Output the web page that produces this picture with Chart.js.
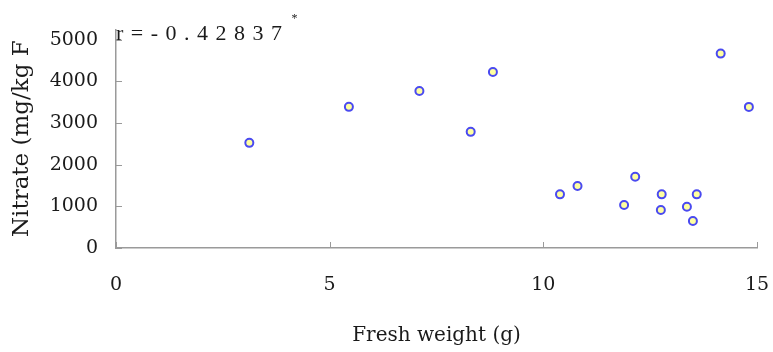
<!DOCTYPE html>
<html>
<head>
<meta charset="utf-8">
<script src="https://cdn.jsdelivr.net/npm/chart.js@4/dist/chart.umd.min.js"></script>
<style>
html,body{margin:0;padding:0;background:#fff;}
#wrap{width:773px;height:352px;position:relative;}
</style>
</head>
<body>
<div id="wrap"><canvas id="c" width="773" height="352"></canvas></div>
<script>
const freshWeight = [3.12, 5.45, 7.10, 8.82, 8.30, 14.15, 14.81, 10.39, 10.80, 12.15, 11.89, 12.77, 12.75, 13.59, 13.36, 13.50];
const nitrate     = [2525, 3390, 3772, 4228, 2789, 4669, 3389, 1288, 1487, 1710, 1031, 1288, 911, 1288, 991, 647];
const xTicks = [0, 5, 10, 15];
const yTicks = [0, 1000, 2000, 3000, 4000, 5000];
const xTitle = 'Fresh weight (g)';
const yTitle = 'Nitrate (mg/kg F';
const rText = 'r=-0.42837';
const rSup = '*';

const points = freshWeight.map((x, i) => ({x: x, y: nitrate[i]}));
const serif = '"DejaVu Serif", "Liberation Serif", serif';
const serif2 = '"Liberation Serif", "DejaVu Serif", serif';
const axisColor = '#9a9a9a';
const textColor = '#1a1a1a';

const inwardTicks = {
  id: 'inwardTicks',
  afterDraw(chart) {
    const ctx = chart.ctx;
    const xs = chart.scales.x, ys = chart.scales.y;
    ctx.save();
    ctx.strokeStyle = axisColor;
    ctx.lineWidth = 1;
    yTicks.forEach(v => {
      const py = Math.round(ys.getPixelForValue(v)) + 0.5;
      ctx.beginPath(); ctx.moveTo(ys.right, py); ctx.lineTo(ys.right + 6, py); ctx.stroke();
    });
    xTicks.forEach(v => {
      const px = Math.round(xs.getPixelForValue(v)) + 0.5;
      ctx.beginPath(); ctx.moveTo(px, xs.top); ctx.lineTo(px, xs.top - 6); ctx.stroke();
    });
    // correlation annotation
    ctx.fillStyle = textColor;
    ctx.font = '22px ' + serif2;
    ctx.textBaseline = 'alphabetic';
    ctx.textAlign = 'left';
    ctx.letterSpacing = '7.5px';
    ctx.fillText(rText, chart.chartArea.left, 40);
    const w = ctx.measureText(rText).width;
    ctx.letterSpacing = '0px';
    ctx.font = '12px ' + serif2;
    ctx.fillText(rSup, chart.chartArea.left + w + 2, 22);
    ctx.restore();
  }
};

new Chart(document.getElementById('c'), {
  type: 'scatter',
  data: {
    datasets: [{
      data: points,
      pointStyle: 'circle',
      pointRadius: 4,
      pointHoverRadius: 4,
      pointBorderWidth: 2,
      pointBorderColor: '#4a4af0',
      pointBackgroundColor: '#ffffa0'
    }]
  },
  options: {
    responsive: false,
    animation: false,
    layout: {padding: {top: 29, right: 0, left: 0, bottom: 0}},
    plugins: {legend: {display: false}, tooltip: {enabled: false}},
    scales: {
      x: {
        type: 'linear', min: 0, max: 15,
        afterBuildTicks(s) { s.ticks = xTicks.map(v => ({value: v})); },
        afterFit(s) { s.height = 104; s.paddingRight = 16; },
        grid: {display: false, drawTicks: false},
        border: {display: true, color: axisColor, width: 1.5},
        ticks: {color: textColor, font: {family: serif, size: 19}, padding: 26, maxRotation: 0, callback: v => String(v)},
        title: {display: true, text: xTitle, color: textColor, font: {family: serif, size: 20}, padding: {top: 8}}
      },
      y: {
        type: 'linear', min: 0, max: 5250,
        afterBuildTicks(s) { s.ticks = yTicks.map(v => ({value: v})); },
        afterFit(s) { s.width = 116; },
        grid: {display: false, drawTicks: false},
        border: {display: true, color: axisColor, width: 1.5},
        ticks: {color: textColor, font: {family: serif, size: 19}, padding: 18, callback: v => String(v)},
        title: {display: true, text: yTitle, color: textColor, font: {family: serif, size: 23}, padding: {top: 8}}
      }
    }
  },
  plugins: [inwardTicks]
});
</script>
</body>
</html>
